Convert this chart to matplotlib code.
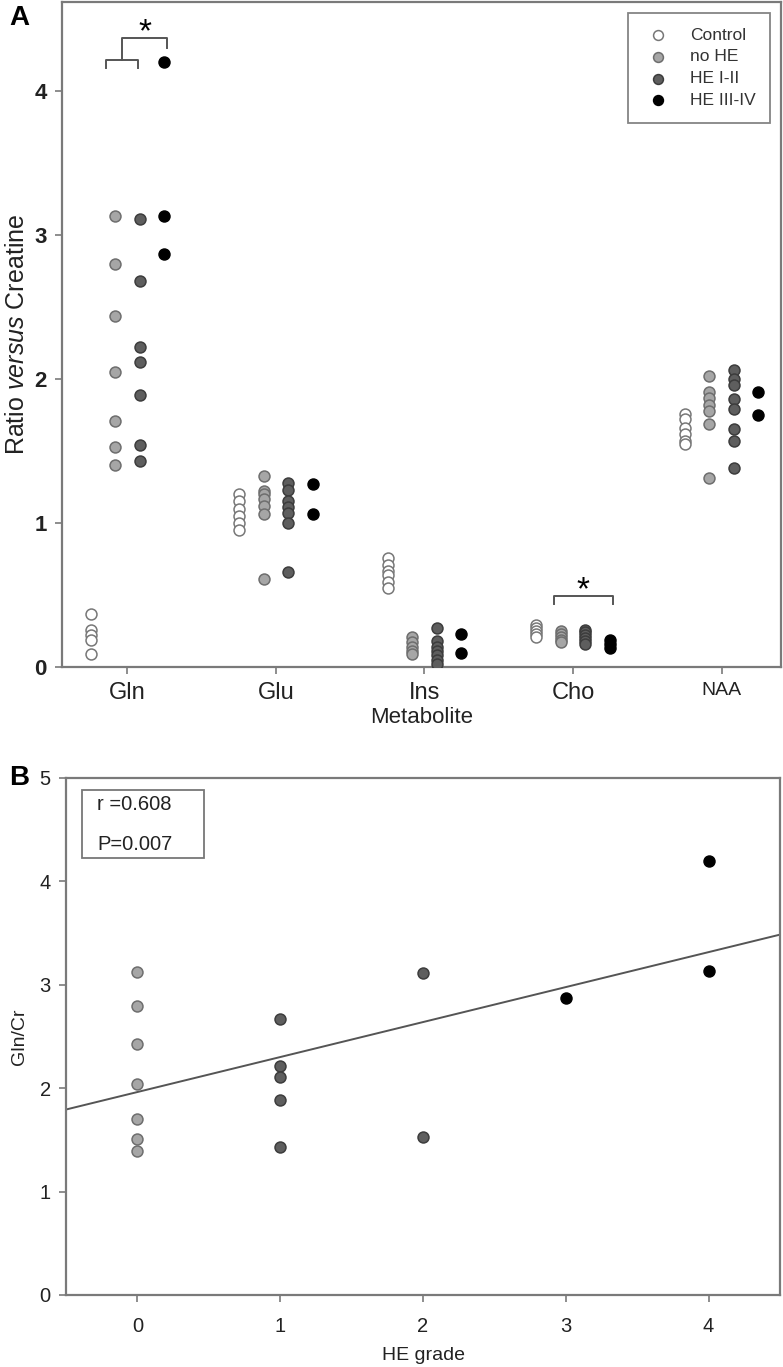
import matplotlib
matplotlib.use("Agg")
import matplotlib.pyplot as plt
from matplotlib.patches import Rectangle
import numpy as np

plt.rcParams["font.family"] = ["Liberation Sans", "DejaVu Sans"]
plt.rcParams["mathtext.fontset"] = "custom"
plt.rcParams["mathtext.rm"] = "Liberation Sans"
plt.rcParams["mathtext.it"] = "Liberation Sans:italic"

# ---- panel A data: ratio versus creatine, per metabolite and group ----
metabolites = ["Gln", "Glu", "Ins", "Cho", "NAA"]
groups = ["Control", "no HE", "HE I-II", "HE III-IV"]

control = [
    [0.37, 0.26, 0.22, 0.19, 0.09],
    [1.20, 1.15, 1.10, 1.05, 1.00, 0.95],
    [0.76, 0.71, 0.67, 0.64, 0.59, 0.55],
    [0.29, 0.27, 0.25, 0.23, 0.21],
    [1.76, 1.72, 1.66, 1.62, 1.57, 1.55],
]
no_he = [
    [3.13, 2.80, 2.44, 2.05, 1.71, 1.53, 1.40],
    [1.33, 1.22, 1.20, 1.17, 1.12, 1.06, 0.61],
    [0.21, 0.17, 0.14, 0.11, 0.09],
    [0.25, 0.23, 0.21, 0.19, 0.17],
    [2.02, 1.91, 1.87, 1.82, 1.78, 1.69, 1.31],
]
he_1_2 = [
    [3.11, 2.68, 2.22, 2.12, 1.89, 1.54, 1.43],
    [1.28, 1.23, 1.15, 1.11, 1.07, 1.00, 0.66],
    [0.27, 0.18, 0.14, 0.11, 0.08, 0.05, 0.02],
    [0.26, 0.24, 0.22, 0.20, 0.18, 0.16],
    [2.06, 2.00, 1.96, 1.86, 1.79, 1.65, 1.57, 1.38],
]
he_3_4 = [
    [4.20, 3.13, 2.87],
    [1.27, 1.06],
    [0.23, 0.10],
    [0.19, 0.16, 0.13],
    [1.91, 1.75],
]

# ---- panel B data: Gln/Cr vs HE grade ----
grade_0 = [3.12, 2.79, 2.43, 2.04, 1.70, 1.51, 1.39]
grade_1 = [2.67, 2.21, 2.11, 1.89, 1.43]
grade_2 = [3.11, 1.53]
grade_3 = [2.87]
grade_4 = [4.20, 3.13]
r_text = "r =0.608"
p_text = "P=0.007"

# styles
face = ["white", "#a6a6a6", "#5e5e5e", "black"]
edge = ["#777777", "#6e6e6e", "#3c3c3c", "black"]
spine_col = "#7a7a7a"
text_col = "#222222"
ms = 62


def style_axes(ax, fs):
    for s in ax.spines.values():
        s.set_color(spine_col)
        s.set_linewidth(1.6)
    ax.tick_params(direction="out", length=5, width=1.2, color=spine_col,
                   labelsize=fs, labelcolor=text_col, pad=6)


fig = plt.figure(figsize=(7.83, 13.67), dpi=100)

# ---------------- panel A ----------------
axA = fig.add_axes([0.0792, 0.5121, 0.9182, 0.4864])
offsets = np.array([-1.5, -0.5, 0.5, 1.5]) * 0.165
all_groups = [control, no_he, he_1_2, he_3_4]
for g, data in enumerate(all_groups):
    for i, vals in enumerate(data):
        xs = np.full(len(vals), i + offsets[g])
        axA.scatter(xs, vals, s=ms, facecolor=face[g], edgecolor=edge[g],
                    linewidth=1.1, zorder=3, label=groups[g] if i == 0 else None)

axA.set_xlim(-0.44, 4.4)
axA.set_ylim(0, 4.62)
axA.set_xticks(range(len(metabolites)))
axA.set_xticklabels(metabolites)
axA.set_yticks([0, 1, 2, 3, 4])
style_axes(axA, 17)
axA.tick_params(axis="y", labelsize=16)
for lab in axA.get_yticklabels():
    lab.set_fontweight("bold")
axA.get_xticklabels()[-1].set_fontsize(14)
axA.set_xlabel("Metabolite", fontsize=16, color=text_col, labelpad=2)
axA.set_ylabel(r"Ratio $\it{versus}$ Creatine", fontsize=18, color=text_col, labelpad=4)

# significance brackets
bk = dict(color="#555555", lw=1.4, zorder=4)
axA.plot([-0.141, -0.141, 0.072, 0.072], [4.16, 4.22, 4.22, 4.16], **bk)
axA.plot([-0.036, -0.036, 0.267, 0.267], [4.22, 4.37, 4.37, 4.30], **bk)
axA.text(0.121, 4.41, "*", ha="center", va="center", fontsize=24, color="black")
axA.plot([2.872, 2.872, 3.27, 3.27], [0.44, 0.49, 0.49, 0.44], **bk)
axA.text(3.07, 0.53, "*", ha="center", va="center", fontsize=24, color="black")

leg = axA.legend(loc="upper right", bbox_to_anchor=(0.985, 0.984), borderaxespad=0,
                 fontsize=12.5, frameon=True, fancybox=False, labelspacing=0.38,
                 borderpad=0.85, handletextpad=0.9, handlelength=1.8, markerscale=0.9)
leg.get_frame().set_edgecolor("#666666")
leg.get_frame().set_linewidth(1.3)
for t in leg.get_texts():
    t.set_color("#333333")

fig.text(0.012, 0.987, "A", fontsize=20, fontweight="bold", va="center")

# ---------------- panel B ----------------
axB = fig.add_axes([0.0843, 0.0527, 0.9119, 0.3782])
grades = [grade_0, grade_1, grade_2, grade_3, grade_4]
g_face = [face[1], face[2], face[2], face[3], face[3]]
g_edge = [edge[1], edge[2], edge[2], edge[3], edge[3]]
xs_all, ys_all = [], []
for k, vals in enumerate(grades):
    axB.scatter(np.full(len(vals), k), vals, s=ms, facecolor=g_face[k],
                edgecolor=g_edge[k], linewidth=1.1, zorder=3)
    xs_all += [k] * len(vals)
    ys_all += vals

# linear regression line across the full x range
slope, icpt = np.polyfit(xs_all, ys_all, 1)
xl = np.array([-0.5, 4.5])
axB.plot(xl, icpt + slope * xl, color="#555555", lw=1.4, zorder=2)

axB.set_xlim(-0.5, 4.5)
axB.set_ylim(0, 5)
axB.set_xticks([0, 1, 2, 3, 4])
axB.set_yticks([0, 1, 2, 3, 4, 5])
style_axes(axB, 14.5)
axB.tick_params(axis="x", pad=11)
axB.set_xlabel("HE grade", fontsize=14, color=text_col, labelpad=8)
axB.set_ylabel("Gln/Cr", fontsize=14, color=text_col, labelpad=8)

# r / P box
axB.add_patch(Rectangle((0.0224, 0.845), 0.171, 0.132, transform=axB.transAxes,
                        facecolor="white", edgecolor="#777777", lw=1.3, zorder=4))
axB.text(0.0434, 0.948, r_text, transform=axB.transAxes, fontsize=14.5,
         color=text_col, va="center", ha="left", zorder=5)
axB.text(0.0434, 0.872, p_text, transform=axB.transAxes, fontsize=14.5,
         color=text_col, va="center", ha="left", zorder=5)

fig.text(0.012, 0.431, "B", fontsize=20, fontweight="bold", va="center")

fig.savefig("out.png", dpi=100)
